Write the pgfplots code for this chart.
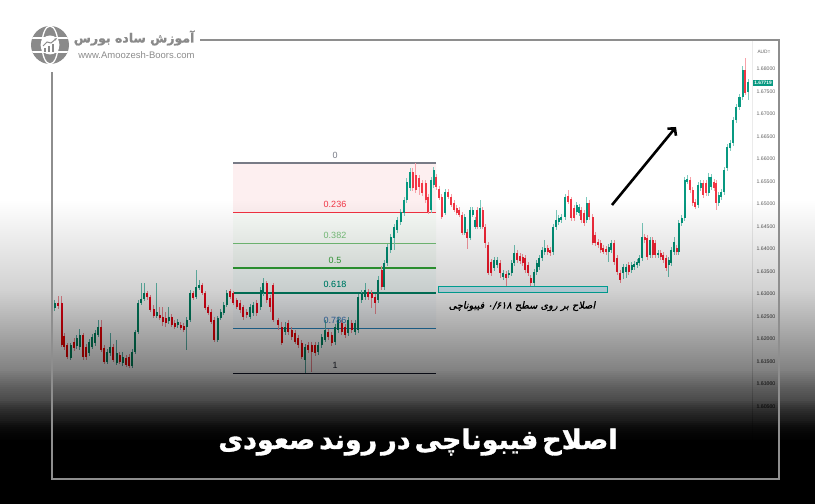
\documentclass[border=0pt]{standalone}
\usepackage{pgfplots}
\pgfplotsset{compat=1.18}
\usepackage{pgfplotstable}
\usepackage{fontspec}
\setmainfont{Liberation Sans}
\newfontfamily\fafont[Script=Arabic]{DejaVu Sans}
\newfontfamily\fatitle[Script=Arabic,FakeBold=1.2]{DejaVu Sans Bold}
\newfontfamily\faslant[Script=Arabic,FakeSlant=0.2,FakeBold=0.6]{DejaVu Sans}
\TeXXeTstate=1
\usetikzlibrary{arrows.meta}

\definecolor{upc}{HTML}{089981}
\definecolor{dnc}{HTML}{F23645}
\definecolor{upw}{HTML}{7FCBBE}
\definecolor{dnw}{HTML}{F7A1A8}
\definecolor{fibgray}{HTML}{787B86}
\definecolor{fibred}{HTML}{F23645}
\definecolor{fiblg}{HTML}{81C784}
\definecolor{fibgreen}{HTML}{4CAF50}
\definecolor{fibteal}{HTML}{089981}
\definecolor{fibblue}{HTML}{5B9BD5}
\definecolor{framegray}{HTML}{8E8E8E}
\definecolor{logogray}{HTML}{8A8A8A}

% rising candles: x open high low close
\pgfplotstableread{
x o h l c
54.7 1.6269 1.6287 1.6262 1.6280
70.7 1.6158 1.6191 1.6153 1.6187
76.7 1.6184 1.6209 1.6178 1.6202
79.7 1.6182 1.6222 1.6176 1.6209
89.0 1.6169 1.6200 1.6162 1.6193
92.0 1.6182 1.6211 1.6178 1.6204
95.0 1.6191 1.6220 1.6184 1.6213
98.0 1.6209 1.6242 1.6204 1.6227
107.3 1.6149 1.6178 1.6144 1.6171
110.3 1.6169 1.6213 1.6162 1.6182
116.7 1.6147 1.6198 1.6142 1.6169
122.7 1.6147 1.6171 1.6140 1.6160
132.0 1.6140 1.6178 1.6136 1.6171
135.3 1.6171 1.6220 1.6167 1.6216
138.3 1.6216 1.6287 1.6211 1.6280
141.3 1.6280 1.6324 1.6276 1.6289
144.3 1.6289 1.6324 1.6284 1.6302
156.7 1.6251 1.6324 1.6247 1.6260
168.7 1.6240 1.6271 1.6233 1.6249
177.7 1.6231 1.6244 1.6224 1.6238
186.7 1.6227 1.6249 1.6176 1.6242
190.0 1.6242 1.6309 1.6238 1.6302
196.0 1.6293 1.6353 1.6289 1.6316
199.0 1.6313 1.6331 1.6309 1.6320
217.7 1.6198 1.6251 1.6193 1.6247
220.7 1.6247 1.6267 1.6242 1.6260
223.7 1.6258 1.6282 1.6253 1.6276
226.7 1.6276 1.6309 1.6271 1.6302
250.0 1.6249 1.6278 1.6244 1.6271
253.3 1.6258 1.6282 1.6251 1.6276
260.7 1.6271 1.6316 1.6264 1.6309
263.3 1.6302 1.6336 1.6296 1.6324
285.0 1.6216 1.6238 1.6209 1.6227
305.0 1.6153 1.6189 1.6124 1.6182
318.3 1.6171 1.6193 1.6164 1.6187
321.7 1.6187 1.6211 1.6180 1.6204
325.0 1.6198 1.6242 1.6193 1.6220
335.0 1.6193 1.6233 1.6187 1.6227
338.3 1.6220 1.6249 1.6213 1.6242
348.3 1.6213 1.6249 1.6207 1.6242
355.0 1.6216 1.6242 1.6209 1.6236
358.3 1.6220 1.6300 1.6213 1.6293
361.7 1.6287 1.6309 1.6280 1.6302
365.0 1.6293 1.6324 1.6287 1.6309
378.3 1.6287 1.6340 1.6280 1.6331
384.0 1.6316 1.6376 1.6309 1.6369
387.3 1.6369 1.6411 1.6362 1.6404
390.7 1.6398 1.6433 1.6391 1.6427
394.0 1.6424 1.6456 1.6398 1.6449
397.3 1.6442 1.6471 1.6436 1.6464
400.7 1.6460 1.6489 1.6453 1.6482
404.0 1.6480 1.6516 1.6473 1.6509
406.7 1.6509 1.6558 1.6502 1.6549
410.0 1.6536 1.6580 1.6529 1.6571
431.3 1.6487 1.6560 1.6480 1.6553
433.8 1.6542 1.6582 1.6536 1.6576
445.0 1.6480 1.6533 1.6476 1.6527
464.7 1.6436 1.6478 1.6431 1.6471
470.0 1.6424 1.6493 1.6420 1.6487
472.7 1.6476 1.6493 1.6471 1.6487
475.0 1.6449 1.6471 1.6444 1.6464
480.0 1.6449 1.6509 1.6444 1.6491
494.3 1.6358 1.6382 1.6351 1.6376
497.3 1.6364 1.6382 1.6358 1.6376
503.3 1.6338 1.6353 1.6331 1.6347
508.7 1.6342 1.6353 1.6336 1.6347
511.7 1.6347 1.6376 1.6340 1.6369
514.3 1.6369 1.6409 1.6362 1.6391
534.0 1.6324 1.6356 1.6318 1.6349
536.7 1.6349 1.6376 1.6342 1.6369
539.3 1.6360 1.6387 1.6353 1.6380
542.0 1.6380 1.6404 1.6373 1.6398
544.7 1.6393 1.6420 1.6387 1.6402
553.3 1.6393 1.6456 1.6387 1.6449
556.0 1.6449 1.6487 1.6442 1.6464
558.7 1.6460 1.6476 1.6453 1.6469
561.3 1.6464 1.6478 1.6458 1.6471
565.0 1.6471 1.6522 1.6464 1.6516
576.7 1.6482 1.6504 1.6476 1.6498
579.0 1.6480 1.6500 1.6473 1.6493
586.7 1.6464 1.6516 1.6458 1.6502
608.7 1.6393 1.6411 1.6371 1.6404
611.3 1.6398 1.6420 1.6391 1.6413
623.3 1.6347 1.6367 1.6333 1.6360
626.0 1.6349 1.6367 1.6336 1.6360
631.7 1.6353 1.6371 1.6347 1.6364
634.3 1.6360 1.6373 1.6353 1.6367
637.0 1.6364 1.6378 1.6358 1.6371
639.3 1.6369 1.6387 1.6362 1.6380
642.0 1.6380 1.6458 1.6373 1.6427
650.0 1.6387 1.6427 1.6380 1.6420
658.0 1.6387 1.6398 1.6380 1.6391
668.7 1.6364 1.6382 1.6338 1.6376
671.3 1.6369 1.6404 1.6362 1.6398
674.0 1.6393 1.6427 1.6387 1.6416
678.7 1.6393 1.6464 1.6387 1.6458
681.7 1.6458 1.6476 1.6451 1.6469
684.7 1.6469 1.6560 1.6462 1.6553
687.3 1.6549 1.6564 1.6544 1.6556
698.0 1.6498 1.6549 1.6491 1.6542
700.7 1.6536 1.6553 1.6529 1.6547
708.7 1.6524 1.6569 1.6518 1.6560
711.3 1.6538 1.6567 1.6531 1.6560
718.7 1.6502 1.6527 1.6496 1.6520
721.3 1.6516 1.6533 1.6509 1.6527
724.0 1.6527 1.6582 1.6520 1.6576
727.0 1.6580 1.6633 1.6573 1.6627
730.0 1.6624 1.6642 1.6618 1.6636
733.0 1.6636 1.6693 1.6629 1.6687
736.0 1.6687 1.6722 1.6680 1.6716
739.5 1.6716 1.6744 1.6709 1.6738
742.7 1.6738 1.6807 1.6731 1.6798
748.0 1.6749 1.6778 1.6731 1.6771
}\upcandles

% falling candles: x open high low close
\pgfplotstableread{
x o h l c
58.2 1.6280 1.6296 1.6267 1.6273
61.7 1.6280 1.6296 1.6182 1.6187
64.3 1.6207 1.6213 1.6176 1.6182
67.3 1.6187 1.6191 1.6156 1.6160
74.0 1.6193 1.6202 1.6173 1.6180
83.0 1.6209 1.6213 1.6153 1.6160
86.0 1.6182 1.6189 1.6153 1.6160
101.0 1.6227 1.6242 1.6171 1.6176
104.3 1.6180 1.6187 1.6144 1.6149
113.3 1.6182 1.6189 1.6149 1.6153
119.7 1.6164 1.6171 1.6144 1.6149
126.0 1.6158 1.6164 1.6138 1.6142
129.0 1.6160 1.6167 1.6136 1.6140
147.3 1.6302 1.6307 1.6287 1.6293
150.3 1.6293 1.6298 1.6260 1.6264
153.7 1.6267 1.6276 1.6247 1.6251
159.7 1.6253 1.6271 1.6242 1.6247
162.7 1.6249 1.6271 1.6229 1.6238
165.7 1.6247 1.6260 1.6227 1.6236
171.7 1.6249 1.6256 1.6227 1.6231
174.7 1.6236 1.6242 1.6222 1.6227
180.7 1.6231 1.6238 1.6220 1.6224
183.7 1.6229 1.6236 1.6216 1.6220
193.0 1.6302 1.6307 1.6287 1.6291
202.0 1.6320 1.6324 1.6298 1.6302
205.3 1.6302 1.6307 1.6264 1.6269
208.3 1.6271 1.6276 1.6253 1.6258
211.3 1.6260 1.6267 1.6233 1.6238
214.3 1.6242 1.6249 1.6193 1.6198
230.0 1.6307 1.6311 1.6289 1.6293
233.3 1.6302 1.6307 1.6276 1.6280
236.7 1.6287 1.6291 1.6267 1.6271
240.0 1.6280 1.6287 1.6258 1.6264
243.3 1.6271 1.6276 1.6242 1.6249
246.7 1.6260 1.6267 1.6247 1.6253
256.7 1.6280 1.6287 1.6251 1.6258
266.7 1.6324 1.6329 1.6280 1.6287
270.0 1.6291 1.6298 1.6260 1.6271
273.3 1.6320 1.6324 1.6238 1.6242
278.3 1.6242 1.6247 1.6220 1.6231
281.7 1.6227 1.6238 1.6187 1.6191
288.3 1.6236 1.6242 1.6209 1.6216
291.7 1.6220 1.6227 1.6198 1.6204
295.0 1.6213 1.6220 1.6189 1.6193
298.3 1.6202 1.6209 1.6180 1.6187
301.7 1.6191 1.6198 1.6156 1.6160
308.3 1.6187 1.6193 1.6169 1.6176
311.7 1.6187 1.6193 1.6127 1.6171
315.0 1.6187 1.6193 1.6162 1.6169
328.3 1.6216 1.6222 1.6198 1.6204
331.7 1.6209 1.6216 1.6184 1.6191
341.7 1.6236 1.6242 1.6209 1.6216
345.0 1.6227 1.6233 1.6202 1.6209
351.7 1.6236 1.6242 1.6213 1.6220
368.3 1.6304 1.6311 1.6287 1.6293
371.7 1.6302 1.6309 1.6269 1.6291
375.0 1.6293 1.6300 1.6256 1.6280
381.7 1.6353 1.6362 1.6309 1.6316
412.7 1.6571 1.6580 1.6529 1.6536
415.7 1.6564 1.6591 1.6524 1.6531
419.0 1.6558 1.6564 1.6520 1.6538
422.3 1.6547 1.6553 1.6518 1.6524
425.7 1.6547 1.6553 1.6502 1.6509
428.3 1.6516 1.6522 1.6478 1.6482
436.2 1.6560 1.6567 1.6531 1.6538
439.0 1.6533 1.6540 1.6509 1.6513
441.7 1.6516 1.6522 1.6467 1.6471
448.3 1.6527 1.6533 1.6511 1.6516
451.0 1.6516 1.6522 1.6493 1.6498
454.0 1.6502 1.6509 1.6482 1.6487
456.7 1.6491 1.6498 1.6476 1.6480
459.3 1.6487 1.6493 1.6471 1.6476
462.0 1.6476 1.6482 1.6431 1.6436
467.3 1.6438 1.6444 1.6400 1.6424
477.3 1.6487 1.6493 1.6444 1.6449
482.7 1.6487 1.6493 1.6444 1.6449
485.3 1.6449 1.6456 1.6402 1.6413
488.3 1.6409 1.6416 1.6342 1.6347
491.0 1.6371 1.6378 1.6340 1.6347
500.0 1.6369 1.6376 1.6336 1.6347
506.0 1.6344 1.6351 1.6313 1.6336
517.3 1.6391 1.6398 1.6369 1.6376
520.0 1.6384 1.6391 1.6367 1.6373
522.7 1.6382 1.6389 1.6362 1.6369
525.3 1.6380 1.6387 1.6347 1.6353
528.0 1.6364 1.6371 1.6340 1.6347
530.7 1.6336 1.6342 1.6316 1.6324
547.7 1.6402 1.6409 1.6387 1.6393
550.3 1.6398 1.6404 1.6384 1.6391
568.3 1.6518 1.6531 1.6500 1.6504
571.0 1.6511 1.6516 1.6462 1.6469
574.0 1.6491 1.6498 1.6462 1.6469
581.3 1.6487 1.6493 1.6458 1.6464
584.0 1.6480 1.6487 1.6451 1.6458
589.3 1.6502 1.6509 1.6464 1.6471
592.7 1.6471 1.6478 1.6409 1.6413
595.3 1.6431 1.6438 1.6407 1.6413
598.0 1.6416 1.6422 1.6402 1.6409
600.7 1.6413 1.6420 1.6391 1.6398
603.3 1.6402 1.6409 1.6389 1.6393
606.0 1.6400 1.6407 1.6387 1.6393
614.0 1.6413 1.6420 1.6364 1.6371
617.3 1.6380 1.6387 1.6342 1.6349
620.3 1.6347 1.6353 1.6324 1.6331
628.7 1.6364 1.6371 1.6342 1.6349
644.7 1.6427 1.6433 1.6413 1.6420
647.3 1.6424 1.6431 1.6376 1.6382
652.7 1.6420 1.6427 1.6380 1.6387
655.3 1.6413 1.6420 1.6380 1.6387
660.7 1.6391 1.6398 1.6376 1.6382
663.3 1.6387 1.6393 1.6369 1.6376
666.0 1.6380 1.6387 1.6351 1.6358
676.7 1.6402 1.6409 1.6387 1.6393
690.0 1.6553 1.6560 1.6524 1.6531
692.7 1.6531 1.6538 1.6496 1.6502
695.3 1.6504 1.6511 1.6489 1.6493
703.3 1.6547 1.6553 1.6513 1.6520
706.0 1.6547 1.6553 1.6518 1.6524
714.0 1.6549 1.6556 1.6529 1.6536
716.0 1.6547 1.6553 1.6487 1.6502
745.3 1.6798 1.6824 1.6742 1.6747
}\downcandles

\begin{document}
\begin{tikzpicture}[x=1pt,y=1pt]
\useasboundingbox (0,0) rectangle (815,504);
\fill[white] (0,0) rectangle (815,504);

\begin{axis}[
  at={(52pt,25pt)}, anchor=south west,
  scale only axis, width=727pt, height=439pt,
  xmin=52, xmax=779, ymin=1.58889, ymax=1.68644,
  axis line style={draw=none},
  xtick=\empty,
  ytick={1.605,1.610,1.615,1.620,1.625,1.630,1.635,1.640,1.645,1.650,1.655,1.660,1.665,1.670,1.675,1.680},
  yticklabel pos=right,
  major tick length=0pt,
  /pgf/number format/assume math mode=true,
  yticklabel={\pgfmathprintnumber[fixed,fixed zerofill,precision=5]{\tick}},
  yticklabel style={anchor=west, xshift=-26pt, font=\fontsize{5.2}{6}\selectfont, text=black!60},
]
% price scale separator
\addplot[black!8, line width=0.6pt, forget plot] coordinates {(752,1.58889) (752,1.68644)};

% Fibonacci zones
\addplot[fill=fibred, fill opacity=0.08, draw=none] coordinates {(233,1.6591) (436,1.6591) (436,1.64808) (233,1.64808) (233,1.6591)};
\addplot[fill=fiblg, fill opacity=0.05, draw=none] coordinates {(233,1.64808) (436,1.64808) (436,1.64126) (233,1.64126) (233,1.64808)};
\addplot[fill=fibgreen, fill opacity=0.05, draw=none] coordinates {(233,1.64126) (436,1.64126) (436,1.63575) (233,1.63575) (233,1.64126)};
\addplot[fill=fibteal, fill opacity=0.04, draw=none] coordinates {(233,1.63575) (436,1.63575) (436,1.63024) (233,1.63024) (233,1.63575)};
\addplot[fill=fibblue, fill opacity=0.03, draw=none] coordinates {(233,1.63024) (436,1.63024) (436,1.62239) (233,1.62239) (233,1.63024)};

% Fibonacci levels
\addplot[fibgray, line width=1.2pt] coordinates {(233,1.6591) (436,1.6591)};
\addplot[fibred, line width=1.4pt] coordinates {(233,1.64808) (436,1.64808)};
\addplot[fiblg, line width=1.2pt] coordinates {(233,1.64126) (436,1.64126)};
\addplot[fibgreen, line width=1.4pt] coordinates {(233,1.63575) (436,1.63575)};
\addplot[fibteal, line width=1.4pt] coordinates {(233,1.63024) (436,1.63024)};
\addplot[fibblue, line width=1.4pt] coordinates {(233,1.62239) (436,1.62239)};
\addplot[fibgray!80!black, line width=1.2pt] coordinates {(233,1.6124) (436,1.6124)};

% wicks
\addplot[draw=none, mark=none, forget plot,
  error bars/.cd, y dir=both, y explicit, error mark=none,
  error bar style={draw=upw, line width=0.7pt}]
  table[x=x, y expr={(\thisrow{h}+\thisrow{l})/2}, y error expr={(\thisrow{h}-\thisrow{l})/2}] {\upcandles};
\addplot[draw=none, mark=none, forget plot,
  error bars/.cd, y dir=both, y explicit, error mark=none,
  error bar style={draw=dnw, line width=0.7pt}]
  table[x=x, y expr={(\thisrow{h}+\thisrow{l})/2}, y error expr={(\thisrow{h}-\thisrow{l})/2}] {\downcandles};
% bodies
\addplot[draw=none, mark=none, forget plot,
  error bars/.cd, y dir=both, y explicit, error mark=none,
  error bar style={draw=upc, line width=2.1pt}]
  table[x=x, y expr={(\thisrow{o}+\thisrow{c})/2}, y error expr={abs(\thisrow{c}-\thisrow{o})/2}] {\upcandles};
\addplot[draw=none, mark=none, forget plot,
  error bars/.cd, y dir=both, y explicit, error mark=none,
  error bar style={draw=dnc, line width=2.1pt}]
  table[x=x, y expr={(\thisrow{o}+\thisrow{c})/2}, y error expr={abs(\thisrow{c}-\thisrow{o})/2}] {\downcandles};

% level labels
\begin{scope}[every node/.style={font=\fontsize{9}{10}\selectfont, anchor=base}]
\node[text=fibgray] at (axis cs:335,1.6602) {0};
\node[text=fibred] at (axis cs:335,1.64918) {0.236};
\node[text=fiblg] at (axis cs:335,1.64236) {0.382};
\node[text=fibgreen] at (axis cs:335,1.63685) {0.5};
\node[text=fibteal] at (axis cs:335,1.63134) {0.618};
\node[text=fibblue] at (axis cs:335,1.62349) {0.786};
\node[text=fibgray!80!black] at (axis cs:335,1.6135) {1};
\end{scope}

% retracement zone and its note
\addplot[fill=cyan!15!white, draw=upc!55!cyan, line width=0.8pt] coordinates {(438,1.6316) (607,1.6316) (607,1.6304) (438,1.6304) (438,1.6316)};
\node[font=\faslant\fontsize{9.8}{11}\selectfont, text=black!85] at (axis cs:522,1.6273)
  {\beginR اصلاح بر روی سطح \beginL۰/۶۱۸\endL{} فیبوناچی\endR};

% trend arrow
\draw[black, line width=2.6pt, -{Straight Barb[length=5pt,width=11pt]}] (axis cs:612,1.64978) -- (axis cs:676,1.66711);
\end{axis}

% symbol and last price tag
\node[font=\fontsize{4.8}{5}\selectfont, text=black!60, anchor=west] at (754,452) {AUD=};
\node[fill=upc, text=white, font=\fontsize{4.8}{5}\selectfont\bfseries, inner sep=1.2pt, anchor=west] at (753,421) {1.67719};

% darkening toward the bottom: stacked translucent bands
\foreach \ya/\yb/\a in {200/250/0.00205,250/290/0.00382,290/330/0.0073,330/370/0.01342,370/400/0.03311,400/420/0.08755,420/440/0.1768}{
  \pgfmathtruncatemacro\nsteps{(\yb-\ya)/2}
  \foreach \k in {1,...,\nsteps}{
    \pgfmathsetmacro\ytop{504-\ya-2*\k+1}
    \fill[black, opacity=\a] (0,0) rectangle (815,\ytop);
  }
}
\fill[black] (0,0) rectangle (815,64);

% frame
\draw[framegray, line width=2pt] (200,464) -- (779,464) -- (779,25) -- (52,25) -- (52,432);

% logo
\begin{scope}
  \fill[logogray] (50,459) circle (19);
  \begin{scope}
    \clip (50,459) circle (19);
    \draw[white, line width=1.3pt] (50,459) ellipse (8 and 19);
    \draw[white, line width=1.3pt] (30,466) -- (70,466);
    \draw[white, line width=1.3pt] (30,452) -- (70,452);
  \end{scope}
  \fill[white] (50,459) circle (9.5);
  \fill[logogray] (44,452) rectangle (46,456);
  \fill[logogray] (48,452) rectangle (50,458);
  \fill[logogray] (52,452) rectangle (54,460);
  \draw[logogray, line width=1pt, -{Stealth[length=3pt]}] (43,458) -- (47,462) -- (51,461) -- (57,466);
  \node[font=\fatitle\fontsize{12.5}{14}\selectfont, text=logogray, anchor=east] at (198,466) {\beginR آموزش ساده بورس\endR};
  \node[font=\fontsize{9.5}{11}\selectfont, text=black!45, anchor=east] at (198,449) {www.Amoozesh-Boors.com};
\end{scope}

% headline
\node[font=\fatitle\fontsize{27}{32}\selectfont, text=white] at (418,62)
  {\spaceskip=4pt\beginR اصلاح فیبوناچی در روند صعودی\endR};
\end{tikzpicture}
\end{document}
